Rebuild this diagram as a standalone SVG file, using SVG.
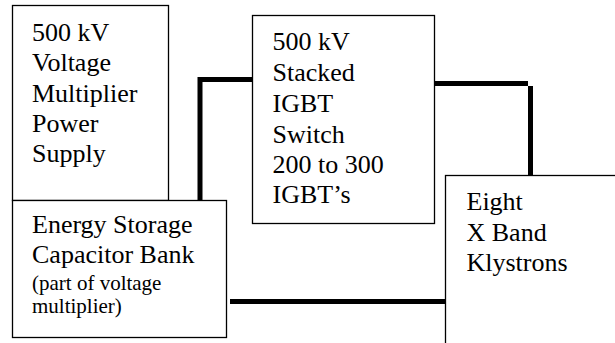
<svg xmlns="http://www.w3.org/2000/svg" width="615" height="343" viewBox="0 0 615 343">
<style>
.box{fill:#fff;stroke:#000;stroke-width:1.3}
.t{font-family:'Liberation Serif','Times New Roman',serif;font-size:26px;fill:#000}
.s{font-family:'Liberation Serif','Times New Roman',serif;font-size:21px;fill:#000}
.c{fill:none;stroke:#000;stroke-width:5}
</style>
<rect width="615" height="343" fill="#fff"/>
<g id="connectors">
<polyline class="c" points="200,200 200,79.5 252,79.5"/>
<line class="c" x1="434" y1="83.5" x2="528" y2="83.5"/>
<line class="c" x1="530.5" y1="86" x2="530.5" y2="175"/>
<line class="c" x1="230" y1="301.5" x2="446" y2="301.5"/>
</g>
<g id="power-supply">
<rect class="box" x="12.5" y="5.5" width="156" height="195"/>
<text class="t" x="32" y="41">500 kV</text>
<text class="t" x="32" y="71">Voltage</text>
<text class="t" x="32" y="101.5">Multiplier</text>
<text class="t" x="32" y="131.5">Power</text>
<text class="t" x="32" y="161.5">Supply</text>
</g>
<g id="capacitor-bank">
<rect class="box" x="12.5" y="200.5" width="214" height="137"/>
<text class="t" x="32" y="233">Energy Storage</text>
<text class="t" x="32" y="263">Capacitor Bank</text>
<text class="s" x="32" y="290">(part of voltage</text>
<text class="s" x="32" y="313">multiplier)</text>
</g>
<g id="igbt-switch">
<rect class="box" x="252.5" y="15.5" width="182" height="208"/>
<text class="t" x="272.5" y="50">500 kV</text>
<text class="t" x="272.5" y="81">Stacked</text>
<text class="t" x="272.5" y="111.5">IGBT</text>
<text class="t" x="272.5" y="142.5">Switch</text>
<text class="t" x="272.5" y="173">200 to 300</text>
<text class="t" x="272.5" y="203">IGBT’s</text>
</g>
<g id="klystrons">
<rect class="box" x="445.5" y="175.5" width="180" height="180"/>
<text class="t" x="466.5" y="210">Eight</text>
<text class="t" x="466.5" y="240.5">X Band</text>
<text class="t" x="466.5" y="270.5">Klystrons</text>
</g>
</svg>
